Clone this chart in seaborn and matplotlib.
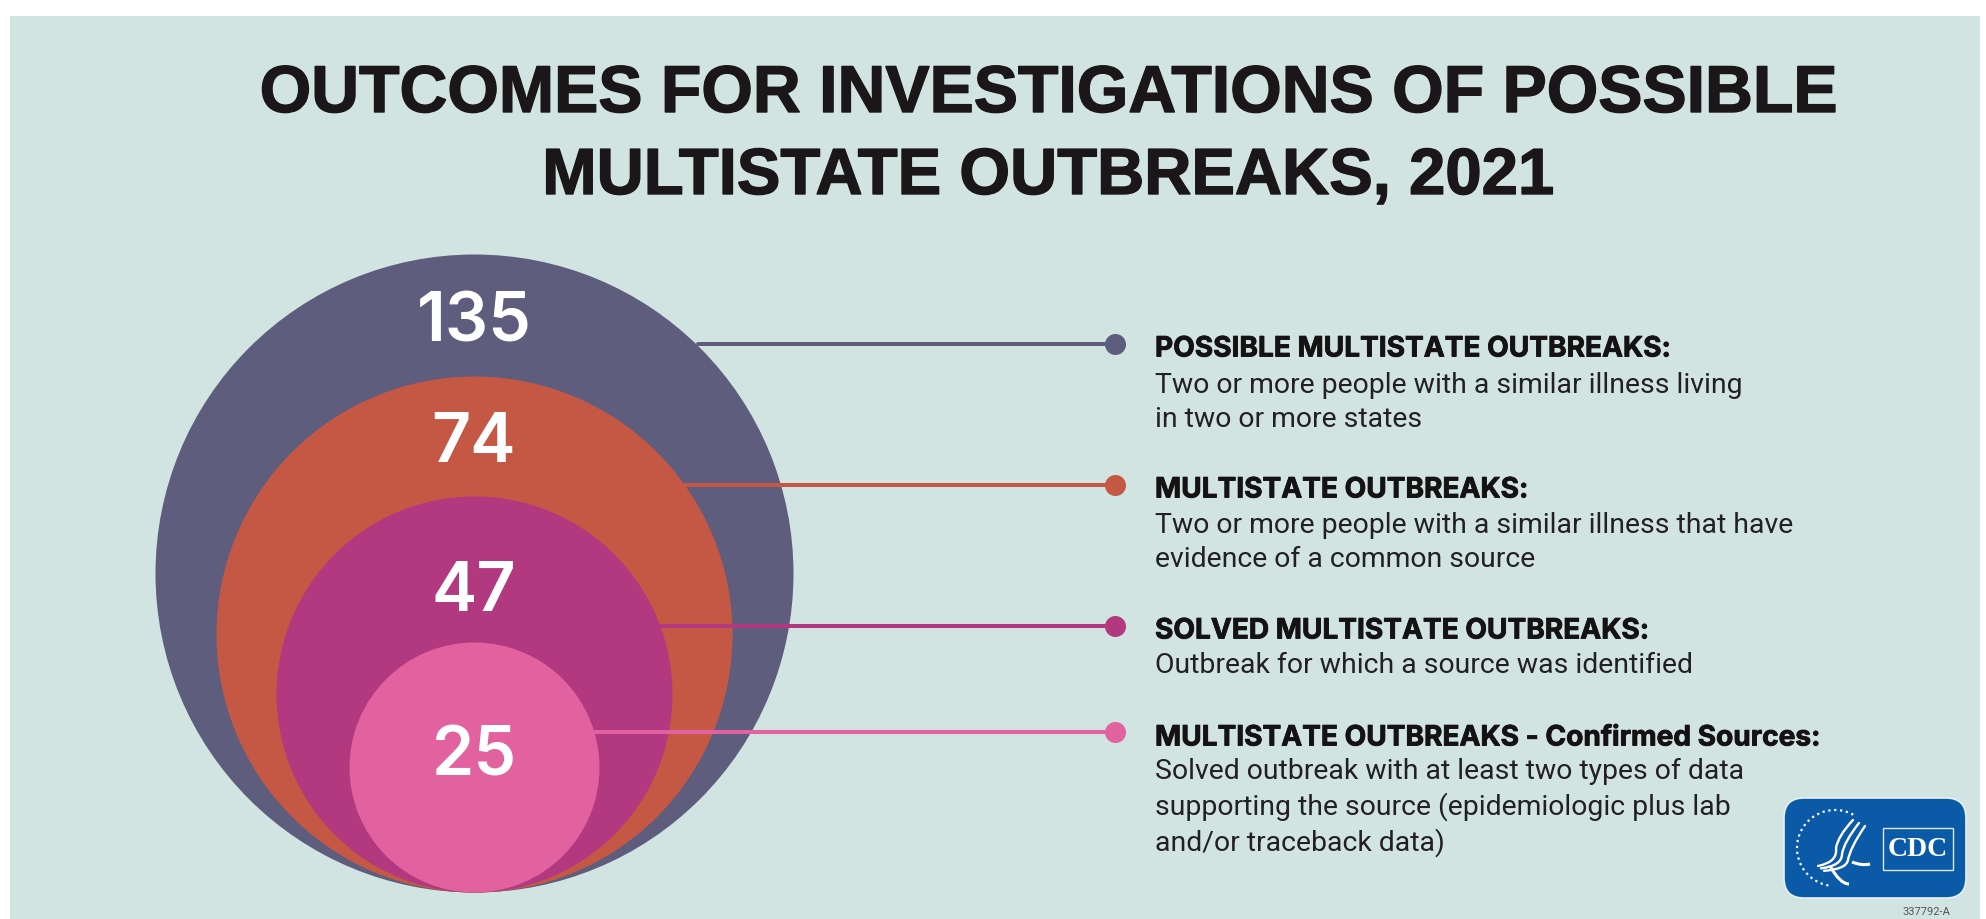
import matplotlib
matplotlib.use("Agg")
import matplotlib.pyplot as plt
import matplotlib.patheffects as pe
from matplotlib.patches import FancyBboxPatch, Rectangle, Arc
from matplotlib.path import Path
from matplotlib.patches import PathPatch
import seaborn as sns

# data
title_lines = ["OUTCOMES FOR INVESTIGATIONS OF POSSIBLE", "MULTISTATE OUTBREAKS, 2021"]
counts = [135, 74, 47, 25]
categories = [
    "POSSIBLE MULTISTATE OUTBREAKS:",
    "MULTISTATE OUTBREAKS:",
    "SOLVED MULTISTATE OUTBREAKS:",
    "MULTISTATE OUTBREAKS - Confirmed Sources:",
]
descriptions = [
    "Two or more people with a similar illness living\nin two or more states",
    "Two or more people with a similar illness that have\nevidence of a common source",
    "Outbreak for which a source was identified",
    "Solved outbreak with at least two types of data\nsupporting the source (epidemiologic plus lab\nand/or traceback data)",
]
colors = ["#5f5d7e", "#c55745", "#b2387f", "#e2619f"]

# layout, in pixels of the output
radius = [319, 258, 198, 125]
center_y = [573, 634, 694, 767]
number_base = [342, 462, 611, 775]
leader_y = [344, 485, 626, 732]
leader_x = [698, 685, 660, 595]
head_y = [349, 490, 631, 738]
desc_y = [372, 512, 652, 758]
CENTER_X = 474
DOT_X = 1115
TEXT_X = 1155

dpi = 100
sns.set_theme(style="white")
plt.rcParams["font.family"] = ["Roboto", "DejaVu Sans"]

fig = plt.figure(figsize=(19.86, 9.19), dpi=dpi, facecolor="white")
ax = fig.add_axes([0, 0, 1, 1])
ax.set_xlim(0, 1986)
ax.set_ylim(919, 0)
ax.axis("off")

ax.add_patch(Rectangle((10, 16), 1970, 903, fc="#d2e4e2", ec="none", zorder=0))

for line, y, fs in zip(title_lines, [112, 194], [47.7, 47]):
    ax.text(1048, y, line, family=["Liberation Sans", "DejaVu Sans"], weight="bold",
            fontsize=fs, color="#1b1718", ha="center", va="baseline",
            path_effects=[pe.withStroke(linewidth=1.0, foreground="#1b1718")])

for i in range(4):
    # marker area is in points^2, diameter = sqrt(s)
    size = (2 * radius[i] * 72 / dpi) ** 2
    sns.scatterplot(x=[CENTER_X], y=[center_y[i]], s=size, color=colors[i],
                    linewidth=0, ax=ax, zorder=2 + i, legend=False)
    ax.text(CENTER_X, number_base[i], str(counts[i]), family=["Inter", "DejaVu Sans"],
            weight="semibold", fontsize=49, color="white", ha="center", va="baseline", zorder=10)
    sns.lineplot(x=[leader_x[i], DOT_X], y=[leader_y[i], leader_y[i]], color=colors[i],
                 linewidth=2.9, ax=ax, zorder=8, legend=False)
    sns.scatterplot(x=[DOT_X], y=[leader_y[i]], s=(21 * 72 / dpi) ** 2, color=colors[i],
                    linewidth=0, ax=ax, zorder=9, legend=False)
    ax.text(TEXT_X, head_y[i], categories[i], family=["Inter", "DejaVu Sans"], weight="bold",
            fontsize=20.2, color="#141213", va="center",
            path_effects=[pe.withStroke(linewidth=0.6, foreground="#141213")])
    ax.text(TEXT_X, desc_y[i], descriptions[i], fontsize=20.4, color="#222022", va="top", linespacing=1.33)

# CDC logo
ax.add_patch(FancyBboxPatch((1784, 798), 182, 100, boxstyle="round,pad=0,rounding_size=20", fc="#0a5aa8",
                            ec="#e8f0f2", lw=1.2, zorder=3))
ax.add_patch(Arc((1835, 848), 76, 76, angle=0, theta1=100, theta2=300, color="white", lw=1.6, ls=":", zorder=4))
for dx in [0, 6, 12]:
    codes = [Path.MOVETO, Path.CURVE3, Path.CURVE3, Path.CURVE3, Path.CURVE3]
    verts = [(1853 + dx, 820 + dx * 0.5), (1838 + dx, 836 + dx), (1836 + dx, 848 + dx),
             (1838 + dx * 0.7, 862 + dx * 0.6), (1818 + dx * 0.5, 866 + dx * 0.4)]
    ax.add_patch(PathPatch(Path(verts, codes), fc="none", ec="white", lw=1.7, capstyle="round", zorder=4))
ax.add_patch(PathPatch(Path([(1830, 866), (1840, 884), (1849, 884)], [Path.MOVETO, Path.CURVE3, Path.CURVE3]),
                       fc="none", ec="white", lw=2.2, zorder=4))
ax.add_patch(PathPatch(Path([(1852, 862), (1862, 866), (1870, 864)], [Path.MOVETO, Path.CURVE3, Path.CURVE3]),
                       fc="none", ec="white", lw=2.2, zorder=4))
ax.add_patch(Rectangle((1883, 828), 70, 42, fc="#0a5aa8", ec="#dce8f2", lw=1, zorder=4))
ax.text(1918, 849, "CDC", family=["Liberation Serif"], weight="bold", fontsize=20, color="white",
        ha="center", va="center", zorder=5)
ax.text(1926, 912, "337792-A", fontsize=8, color="#555555", ha="center", va="center")

fig.savefig("out.png", dpi=dpi, facecolor="white")
plt.close(fig)
